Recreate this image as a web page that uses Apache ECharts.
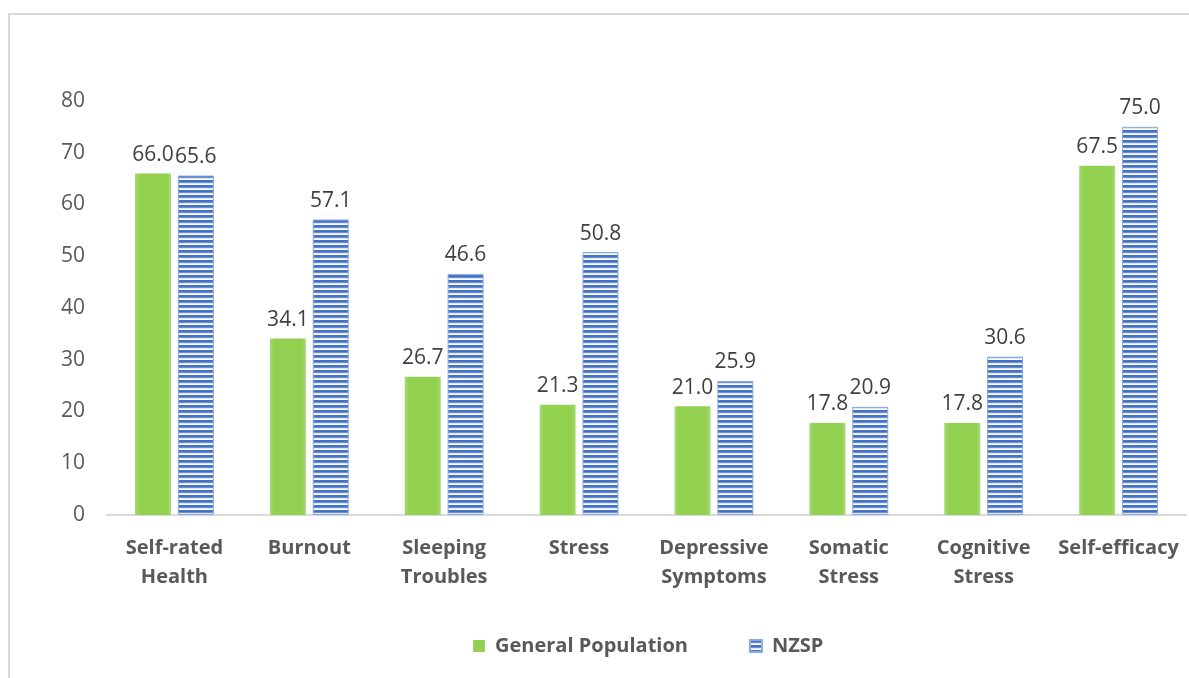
<!DOCTYPE html>
<html>
<head>
<meta charset="utf-8">
<script src="https://cdn.jsdelivr.net/npm/echarts@6/dist/echarts.min.js"></script>
<style>
  html, body { margin: 0; padding: 0; background: #fff; }
  #frame {
    position: absolute; left: 8px; top: 13px; width: 1181px; height: 665px;
    border-left: 2px solid #d9d9d9; border-top: 2px solid #d9d9d9;
    box-sizing: border-box;
  }
  #main { position: absolute; left: 0; top: 0; width: 1189px; height: 678px; }
</style>
</head>
<body>
<div id="frame"></div>
<div id="main"></div>
<script>
const categories = ['Self-rated\nHealth', 'Burnout', 'Sleeping\nTroubles', 'Stress',
  'Depressive\nSymptoms', 'Somatic\nStress', 'Cognitive\nStress', 'Self-efficacy'];
const generalPopulation = [66.0, 34.1, 26.7, 21.3, 21.0, 17.8, 17.8, 67.5];
const nzsp = [65.6, 57.1, 46.6, 50.8, 25.9, 20.9, 30.6, 75.0];

// horizontal stripe pattern for the NZSP bars
const makeStripes = () => {
  const c = document.createElement('canvas');
  c.width = 4; c.height = 5;
  const ctx = c.getContext('2d');
  const rows = ['#4472c4', '#4472c4', '#6a8fd2', '#dfe7f6', '#ffffff'];
  rows.forEach((col, i) => { ctx.fillStyle = col; ctx.fillRect(0, i, 4, 1); });
  return c;
};

const chart = echarts.init(document.getElementById('main'));
const font = '"Open Sans", sans-serif';

chart.setOption({
  animation: false,
  textStyle: { fontFamily: font },
  grid: { left: 107, right: 3, top: 101, bottom: 163 },
  legend: {
    bottom: 17,
    left: 468,
    icon: 'rect',
    itemWidth: 12,
    itemHeight: 12,
    itemGap: 61,
    textStyle: {
      fontSize: 20, fontWeight: 'bold', color: '#595959', fontFamily: font,
      padding: [0, 0, 0, 5]
    },
    data: ['General Population', 'NZSP']
  },
  xAxis: {
    type: 'category',
    data: categories,
    axisLine: { lineStyle: { color: '#d9d9d9', width: 2 } },
    axisTick: { show: false },
    axisLabel: {
      interval: 0, margin: 19, fontSize: 20, fontWeight: 'bold',
      color: '#595959', lineHeight: 29, fontFamily: font
    }
  },
  yAxis: {
    type: 'value',
    min: 0, max: 80, interval: 10,
    splitLine: { show: false },
    axisLine: { show: false },
    axisTick: { show: false },
    axisLabel: { fontSize: 21, color: '#595959', margin: 22, fontFamily: font }
  },
  series: [
    {
      name: 'General Population',
      type: 'bar',
      barWidth: 36,
      barGap: '19%',
      data: generalPopulation,
      itemStyle: {
        color: new echarts.graphic.LinearGradient(0, 0, 1, 0, [
          { offset: 0, color: '#a6da78' },
          { offset: 0.12, color: '#92d050' },
          { offset: 0.88, color: '#92d050' },
          { offset: 1, color: '#a6da78' }
        ])
      },
      label: {
        show: true, position: 'top', distance: 8, fontSize: 21, color: '#404040',
        fontFamily: font, formatter: p => p.value.toFixed(1)
      }
    },
    {
      name: 'NZSP',
      type: 'bar',
      barWidth: 36,
      data: nzsp,
      itemStyle: {
        color: { image: makeStripes(), repeat: 'repeat' },
        borderColor: '#8faadc', borderWidth: 1
      },
      label: {
        show: true, position: 'top', distance: 8, fontSize: 21, color: '#404040',
        fontFamily: font, formatter: p => p.value.toFixed(1)
      }
    }
  ]
});
</script>
</body>
</html>
